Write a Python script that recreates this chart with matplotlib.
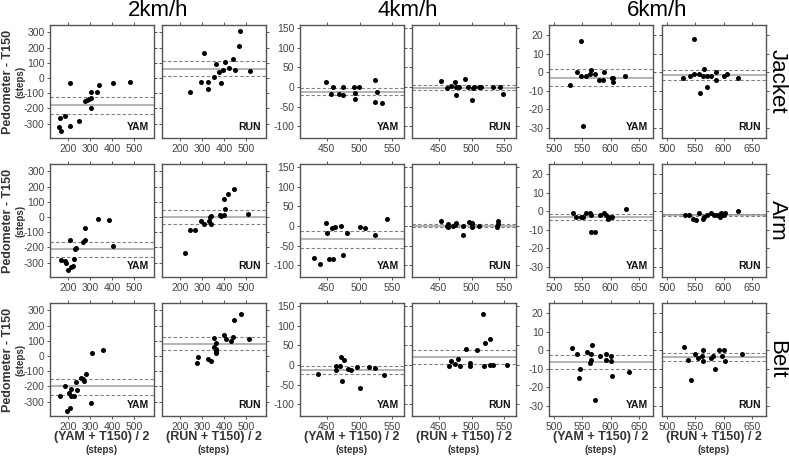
import matplotlib
matplotlib.use("Agg")
import matplotlib.pyplot as plt

plt.rcParams['font.family'] = ['Liberation Sans', 'DejaVu Sans']
plt.rcParams['axes.unicode_minus'] = False

SPEEDS = ["2km/h", "4km/h", "6km/h"]
PLACES = ["Jacket", "Arm", "Belt"]
DEVICES = ["YAM", "RUN"]

# ---- Jacket ----
jacket_2_yam_x = [159, 171, 167, 187, 210, 212, 251, 278, 288, 297, 304, 306, 306, 333, 343, 404, 483]
jacket_2_yam_y = [-322, -346, -261, -252, -315, -35, -283, -152, -143, -138, -133, -91, -196, -91, -43, -35, -26]
jacket_2_yam_lines = [-178, -126, -235]
jacket_2_run_x = [248, 298, 309, 330, 330, 353, 363, 379, 387, 395, 405, 423, 443, 449, 468, 472, 519]
jacket_2_run_y = [-91, -26, 161, -26, -74, 4, 91, 39, -30, 50, 107, 63, 128, 52, 211, 307, 43]
jacket_2_run_lines = [59, 109, 11]

jacket_4_yam_x = [449, 457, 460, 469, 474, 474, 492, 493, 493, 499, 523, 526, 523, 534]
jacket_4_yam_y = [12, -17, -1, -18, -20, 1, -1, -16, -30, 0, 18, -12, -39, -40]
jacket_4_yam_lines = [-12, -3, -21]
jacket_4_run_x = [454, 462, 468, 474, 477, 477, 481, 490, 495, 501, 503, 504, 511, 514, 533, 543, 548]
jacket_4_run_y = [15, -2, 3, 13, -20, 0, 0, 21, 0, -32, -2, -1, 0, -1, -1, -1, -17]
jacket_4_run_lines = [-2, 4, -7]

jacket_6_yam_x = [528, 541, 548, 548, 551, 557, 563, 566, 572, 579, 587, 588, 602, 604, 605, 626]
jacket_6_yam_y = [-7, 0, -2, 17, -29, -2, -1, 1, -1, -4, -4, 0, -3, -5, -3, -2]
jacket_6_yam_lines = [-3, 1.6, -7.3]
jacket_6_run_x = [529, 541, 548, 548, 556, 558, 564, 566, 571, 570, 578, 587, 587, 601, 606, 626]
jacket_6_run_y = [-3, -2, -1, 18, -1, -11, -2, 2, -2, -8, -2, 0, -4, -2, -1, -3]
jacket_6_run_lines = [-1.6, 1.3, -4.3]

# ---- Arm ----
arm_2_yam_x = [170, 190, 193, 203, 213, 223, 229, 212, 232, 236, 270, 280, 280, 339, 386, 406]
arm_2_yam_y = [-280, -291, -304, -350, -328, -324, -274, -150, -207, -204, -163, -148, -72, -13, -22, -189]
arm_2_yam_lines = [-211, -161, -263]
arm_2_run_x = [222, 245, 271, 295, 309, 334, 337, 340, 340, 380, 386, 399, 404, 399, 418, 445, 509]
arm_2_run_y = [-235, -83, -87, -24, -46, -24, 2, 9, -46, 13, 4, 11, 52, 120, 148, 183, 17]
arm_2_run_lines = [2, 48, -43]

arm_4_yam_x = [431, 439, 448, 451, 454, 458, 460, 462, 472, 475, 481, 500, 509, 524, 542]
arm_4_yam_y = [-82, -96, 8, -19, -83, -4, -83, -2, 0, -73, -17, -3, -5, -23, 17]
arm_4_yam_lines = [-34, -14, -55]
arm_4_run_x = [453, 463, 464, 464, 472, 477, 475, 487, 487, 496, 500, 501, 501, 512, 539, 540, 541, 539]
arm_4_run_y = [13, -1, 4, -3, -1, 8, 3, 1, -22, 11, 8, -3, 4, -1, -3, 6, 12, 1]
arm_4_run_lines = [1, 5, -3]

arm_6_yam_x = [534, 539, 547, 552, 556, 564, 565, 565, 573, 582, 588, 591, 596, 598, 602, 628]
arm_6_yam_y = [-1, -3, -3, -3, -1, -1, -2, -11, -11, -2, -1, -2, -4, -3, -3, 1]
arm_6_yam_lines = [-3.2, -1.4, -5]
arm_6_run_x = [531, 538, 546, 551, 556, 563, 566, 570, 578, 583, 589, 593, 596, 600, 603, 626]
arm_6_run_y = [-2, -2, -4, -5, -1, -4, -3, -2, -1, -2, -2, -3, -1, -2, -1, 0]
arm_6_run_lines = [-2.1, -1.6, -2.7]

# ---- Belt ----
belt_2_yam_x = [167, 186, 199, 209, 206, 214, 216, 228, 236, 243, 262, 267, 272, 283, 307, 312, 361]
belt_2_yam_y = [-265, -200, -363, -343, -246, -215, -265, -265, -174, -226, -143, -148, -161, -120, -307, 22, 41]
belt_2_yam_lines = [-200, -148, -254]
belt_2_run_x = [276, 282, 327, 343, 353, 357, 363, 362, 363, 362, 402, 410, 430, 440, 446, 479, 514]
belt_2_run_y = [-46, -7, -17, -33, 59, 115, 85, 46, 35, 20, 137, 109, 100, 124, 237, 278, 109]
belt_2_run_lines = [80, 122, 39]

belt_4_yam_x = [437, 464, 464, 470, 472, 473, 476, 483, 487, 496, 501, 515, 523, 537]
belt_4_yam_y = [-24, -3, -12, -3, 21, -42, 14, -9, -13, -5, -58, -4, -7, -26]
belt_4_yam_lines = [-14, -3, -23]
belt_4_run_x = [465, 468, 474, 480, 483, 491, 497, 497, 509, 517, 519, 520, 528, 528, 533, 554]
belt_4_run_y = [-3, 9, 2, 15, -2, 41, 6, -3, 37, 131, -2, 57, 65, 1, -1, 0]
belt_4_run_lines = [20, 38, 3]

belt_6_yam_x = [532, 541, 545, 544, 558, 563, 566, 566, 567, 572, 581, 591, 591, 601, 600, 603, 632]
belt_6_yam_y = [1, -2, -10, -15, -1, -7, -2, -5, 3, -27, -3, -2, -5, -3, -6, -14, -12]
belt_6_yam_lines = [-6.4, -2.7, -10]
belt_6_run_x = [530, 537, 542, 550, 554, 562, 563, 564, 578, 581, 585, 591, 598, 600, 602, 633]
belt_6_run_y = [2, -5, -16, -2, -4, -3, -6, 0, -4, -3, -10, 0, -3, 0, -6, -2]
belt_6_run_lines = [-3.9, -1.4, -5.9]

XLIMS = [(120, 590), (409, 568), (491, 675)]
YLIMS = [(-394, 348), (-130, 158), (-35.5, 25.5)]
XTICKS = [[200, 300, 400, 500], [450, 500, 550], [500, 550, 600, 650]]
YTICKS = [[-300, -200, -100, 0, 100, 200, 300],
          [-100, -50, 0, 50, 100, 150],
          [-30, -20, -10, 0, 10, 20]]

# panel geometry in pixels
FIG_W, FIG_H = 789, 457
COL_LEFT = [[50, 162], [300, 412], [549, 662]]
ROW_TOP = [25, 164, 303]
PW, PH = 104, 113

TICK_COLOR = "#444444"
LABEL_COLOR = "#333333"


def panel_data(place, speed_idx, device):
    name = "%s_%s_%s" % (place.lower(), ["2", "4", "6"][speed_idx], device.lower())
    g = globals()
    return g[name + "_x"], g[name + "_y"], g[name + "_lines"]


def draw_panel(ax, place, c, d):
    x, y, lines = panel_data(place, c, DEVICES[d])
    mean, upper, lower = lines
    ax.axhline(mean, color="#a8a8a8", lw=1.2, zorder=1)
    ax.axhline(upper, color="#808080", lw=0.8, ls=(0, (3, 2)), zorder=1)
    ax.axhline(lower, color="#808080", lw=0.8, ls=(0, (3, 2)), zorder=1)
    ax.scatter(x, y, s=13, color="black", zorder=3, linewidths=0)

    ax.set_xlim(*XLIMS[c])
    ax.set_ylim(*YLIMS[c])
    ax.set_xticks(XTICKS[c])
    ax.set_yticks(YTICKS[c])
    ax.tick_params(direction="out", length=2.5, width=0.7, colors="#555555",
                   labelcolor=TICK_COLOR, labelsize=7.5, pad=1.5,
                   top=True, right=True)
    if d == 1:
        ax.tick_params(labelleft=False)
    for s in ax.spines.values():
        s.set_color("#555555")
        s.set_linewidth(1.0)
    ax.text(0.95, 0.05, DEVICES[d], transform=ax.transAxes, ha="right",
            va="bottom", fontsize=7.5, fontweight="bold", color="#111111")


def main():
    fig = plt.figure(figsize=(FIG_W / 100, FIG_H / 100), dpi=100)

    for r, place in enumerate(PLACES):
        for c in range(3):
            for d in range(2):
                left = COL_LEFT[c][d] / FIG_W
                bottom = 1 - (ROW_TOP[r] + PH) / FIG_H
                ax = fig.add_axes([left, bottom, PW / FIG_W, PH / FIG_H])
                draw_panel(ax, place, c, d)

                if r == 2:
                    xc = (COL_LEFT[c][d] + PW / 2) / FIG_W
                    fig.text(xc, 1 - 437 / FIG_H, "(%s + T150) / 2" % DEVICES[d],
                             ha="center", va="center", fontsize=9,
                             fontweight="bold", color=LABEL_COLOR)
                    fig.text(xc, 1 - 450 / FIG_H, "(steps)", ha="center",
                             va="center", fontsize=7, fontweight="bold",
                             color=LABEL_COLOR)

        # y label on the left of each row
        yc = 1 - (ROW_TOP[r] + PH / 2) / FIG_H
        fig.text(8 / FIG_W, yc, "Pedometer - T150", rotation=90,
                 ha="center", va="center", fontsize=9, fontweight="bold",
                 color=LABEL_COLOR)
        fig.text(20.5 / FIG_W, yc, "(steps)", rotation=90, ha="center",
                 va="center", fontsize=7, fontweight="bold", color=LABEL_COLOR)
        # row label on the right
        fig.text(777 / FIG_W, yc, place, rotation=270, ha="center",
                 va="center", fontsize=16, color="black")

    for c, speed in enumerate(SPEEDS):
        xc = (COL_LEFT[c][0] + COL_LEFT[c][1] + PW) / 2 / FIG_W
        fig.text(xc, 1 - 11 / FIG_H, speed, ha="center", va="center",
                 fontsize=16, color="black")

    fig.savefig("out.png", dpi=100)


if __name__ == "__main__":
    main()
